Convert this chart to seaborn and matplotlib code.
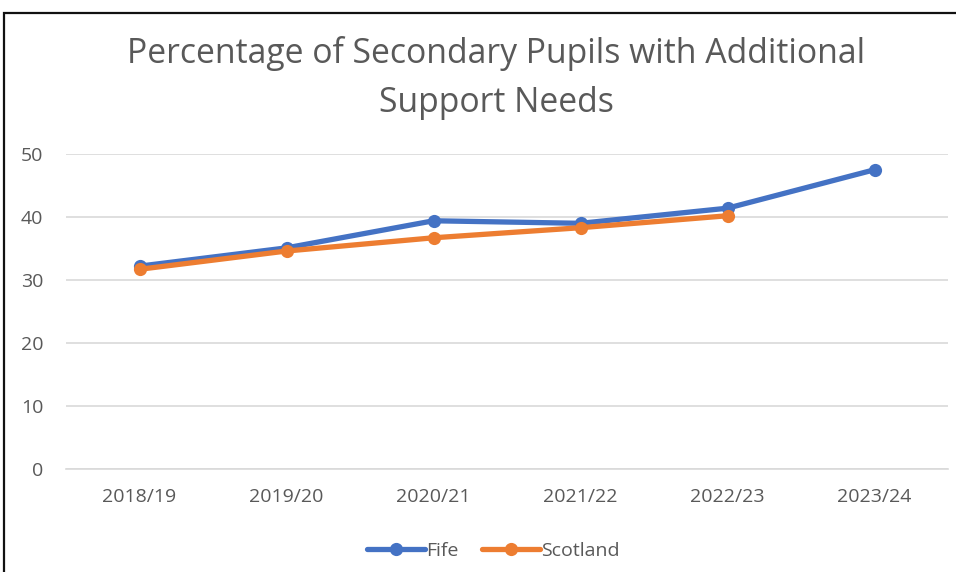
import matplotlib
matplotlib.use("Agg")
import matplotlib.pyplot as plt
import seaborn as sns
import pandas as pd
from matplotlib.patches import Rectangle
from matplotlib.lines import Line2D

years = ["2018/19", "2019/20", "2020/21", "2021/22", "2022/23", "2023/24"]
fife = [32.2, 35.1, 39.4, 39.0, 41.4, 47.5]
scotland = [31.7, 34.6, 36.7, 38.3, 40.2, None]
series_names = ["Fife", "Scotland"]
colors = {"Fife": "#4472C4", "Scotland": "#ED7D31"}
title = "Percentage of Secondary Pupils with Additional\nSupport Needs"

sns.set_style("white")
plt.rcParams["font.family"] = ["Open Sans", "DejaVu Sans"]

rows = []
for i, y in enumerate(years):
    rows.append({"year": y, "x": i, "series": "Fife", "value": fife[i]})
    if scotland[i] is not None:
        rows.append({"year": y, "x": i, "series": "Scotland", "value": scotland[i]})
df = pd.DataFrame(rows)

fig = plt.figure(figsize=(9.56, 5.72), dpi=100)
ax = fig.add_axes([66/956, 103/572, (948-66)/956, (469-154)/572])

sns.lineplot(data=df, x="x", y="value", hue="series", palette=colors,
             marker="o", markersize=9.5, markeredgewidth=0, linewidth=3.8,
             ax=ax, legend=False, sort=False)

ax.set_xlim(-0.5, len(years) - 0.5)
ax.set_ylim(0, 50)
ax.set_yticks([0, 10, 20, 30, 40, 50])
ax.set_xticks(range(len(years)))
ax.set_xticklabels(years)
ax.set_xlabel("")
ax.set_ylabel("")
ax.grid(axis="y", color="#D9D9D9", linewidth=1.2)
ax.set_axisbelow(True)
for s in ["top", "right", "left"]:
    ax.spines[s].set_visible(False)
ax.spines["bottom"].set_color("#D9D9D9")
ax.spines["bottom"].set_linewidth(1.2)
ax.tick_params(axis="both", length=0, labelsize=14, labelcolor="#595959")
ax.tick_params(axis="y", pad=16.5)
ax.tick_params(axis="x", pad=14)

fig.text(496/956, 1 - 78/572, title, ha="center", va="center",
         fontsize=24.3, color="#595959", linespacing=1.55)

handles = [Line2D([0], [0], color=colors[n], lw=3.8, marker="o", markersize=9.5,
                  markeredgewidth=0) for n in series_names]
fig.legend(handles, series_names, loc="center", bbox_to_anchor=(493/956, 1 - 551/572),
           ncol=2, frameon=False, fontsize=14, labelcolor="#595959",
           handlelength=3.0, handletextpad=0.05, columnspacing=1.2)

fig.add_artist(Rectangle((4/956, -0.01), 960/956, 1 - 13/572 + 0.01,
                         transform=fig.transFigure, fill=False,
                         edgecolor="#111111", linewidth=1.6))

fig.savefig("out.png", dpi=100, facecolor="white")
